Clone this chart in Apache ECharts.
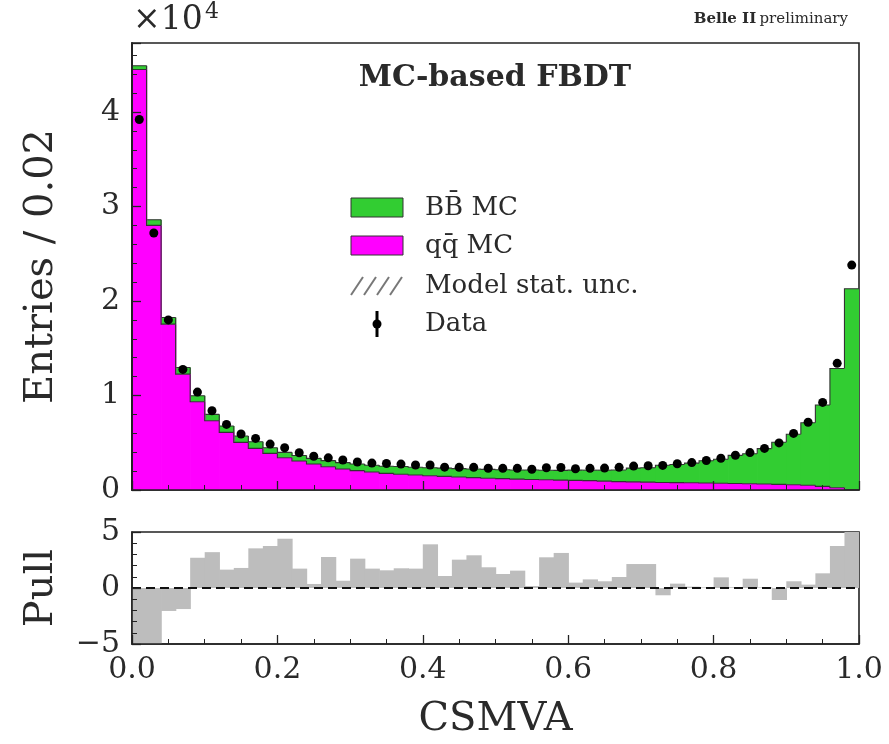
<!DOCTYPE html>
<html><head><meta charset="utf-8">
<script src="https://cdn.jsdelivr.net/npm/echarts@6/dist/echarts.min.js"></script>
<style>html,body{margin:0;padding:0;background:#fff}#c{width:889px;height:744px}</style>
</head><body><div id="c"></div>
<script>
// ---- data (50 bins of width 0.02 in CSMVA) ----
const BIN_WIDTH = 0.02;
const binEdges = Array.from({length: 51}, (_, i) => +(i * BIN_WIDTH).toFixed(2));
const qqMC = [44500, 28000, 17550, 12260, 9340, 7330, 6100, 5040, 4400, 3880,
  3420, 3070, 2750, 2460, 2220, 2050, 1900, 1760, 1660, 1580,
  1510, 1440, 1370, 1310, 1250, 1200, 1150, 1110, 1080, 1050,
  1020, 990, 940, 890, 860, 830, 800, 780, 760, 740,
  710, 690, 660, 630, 600, 560, 510, 380, 240, 30];
const bbMC = [400, 600, 700, 710, 630, 670, 670, 670, 710, 590,
  560, 580, 600, 650, 680, 700, 720, 760, 820, 820,
  850, 870, 890, 910, 930, 950, 970, 1000, 1010, 1030,
  1080, 1110, 1160, 1220, 1460, 1530, 1820, 1920, 2080, 2360,
  2540, 2970, 3180, 3750, 4460, 5340, 6610, 8620, 12620, 21270];
const dataCounts = [39200, 27200, 18000, 12760, 10360, 8380, 6940, 5920, 5460, 4860,
  4470, 3940, 3570, 3400, 3170, 2960, 2850, 2800, 2740, 2640,
  2640, 2420, 2400, 2400, 2300, 2290, 2290, 2190, 2360, 2380,
  2250, 2290, 2320, 2400, 2530, 2570, 2600, 2780, 2900, 3120,
  3360, 3680, 3960, 4400, 4980, 5990, 7170, 9270, 13400, 23800];
const pulls = [-5, -5, -2.05, -1.88, 2.7, 3.2, 1.64, 1.79, 3.54, 3.75,
  4.4, 1.73, 0.36, 2.77, 0.65, 2.62, 1.73, 1.58, 1.76, 1.73,
  3.9, 1.07, 2.53, 2.92, 1.85, 1.25, 1.55, 0.18, 2.74, 3.13,
  0.48, 0.77, 0.6, 0.98, 2.14, 2.14, -0.65, 0.39, 0.12, 0.05,
  0.95, 0.07, 0.83, 0.05, -1.07, 0.6, 0.3, 1.31, 3.75, 5.0];
const yMax = 47300;

const FONT = 'DejaVu Serif';
const TXT = '#2a2a2a';
const AX = '#222';
const EDGE = '#333';

// histogram items: [lowEdge, highEdge, base, top, index]
function histItems(baseArr, valArr) {
  return valArr.map((v, i) => {
    const b = baseArr ? baseArr[i] : 0;
    return [binEdges[i], binEdges[i + 1], b, b + v, i];
  });
}
const qqItems = histItems(null, qqMC);
const bbItems = histItems(qqMC, bbMC);
const pullItems = histItems(null, pulls);

function histRenderer(items, fill, outline) {
  return function (params, api) {
    const x0 = api.value(0), x1 = api.value(1), lo = api.value(2), hi = api.value(3), i = api.value(4);
    const pLo = api.coord([x0, lo]);
    const pHi = api.coord([x1, hi]);
    const top = Math.min(pLo[1], pHi[1]), bot = Math.max(pLo[1], pHi[1]);
    const children = [{
      type: 'rect',
      shape: {x: pLo[0], y: top, width: pHi[0] - pLo[0] + 0.7, height: bot - top},
      style: {fill: fill, stroke: null}
    }];
    if (outline) {
      const prevHi = i > 0 ? items[i - 1][3] : lo;
      const pPrev = api.coord([x0, prevHi]);
      children.push({
        type: 'polyline',
        shape: {points: [[pLo[0], pPrev[1]], [pLo[0], pHi[1]], [pHi[0], pHi[1]]]},
        style: {stroke: EDGE, lineWidth: 1.1, fill: null}
      });
    }
    return {type: 'group', children: children};
  };
}

const chart = echarts.init(document.getElementById('c'), null, {renderer: 'canvas'});

const axisCommon = {
  z: 10,
  axisLine: {show: true, onZero: false, lineStyle: {color: AX, width: 1.6}},
  splitLine: {show: false},
};
const tickLbl = {fontFamily: FONT, fontSize: 30, color: TXT};
const nameStyle = {fontFamily: FONT, fontSize: 40, color: TXT};

chart.setOption({
  backgroundColor: '#fff',
  animation: false,
  grid: [
    {left: 132, right: 30, top: 43, height: 447, show: true, borderColor: AX, borderWidth: 1.6, backgroundColor: 'transparent'},
    {left: 132, right: 30, top: 532, height: 112, show: true, borderColor: AX, borderWidth: 1.6, backgroundColor: 'transparent'}
  ],
  xAxis: [
    Object.assign({}, axisCommon, {
      gridIndex: 0, type: 'value', min: 0, max: 1, interval: 0.2,
      axisTick: {inside: true, length: 9, lineStyle: {color: AX, width: 1.3}},
      minorTick: {show: true, splitNumber: 4, length: 5, lineStyle: {color: AX, width: 1}},
      axisLabel: {show: false}
    }),
    Object.assign({}, axisCommon, {
      gridIndex: 1, type: 'value', min: 0, max: 1, interval: 0.2,
      axisTick: {inside: true, length: 9, lineStyle: {color: AX, width: 1.3}},
      minorTick: {show: true, splitNumber: 4, length: 5, lineStyle: {color: AX, width: 1}},
      axisLabel: Object.assign({show: true, margin: 11, formatter: v => v.toFixed(1)}, tickLbl),
      name: 'CSMVA', nameLocation: 'middle', nameGap: 56, nameTextStyle: nameStyle
    })
  ],
  yAxis: [
    Object.assign({}, axisCommon, {
      gridIndex: 0, type: 'value', min: 0, max: yMax, interval: 2000, position: 'left',
      axisTick: {inside: true, length: 5, lineStyle: {color: AX, width: 1}},
      axisLabel: {show: false}
    }),
    Object.assign({}, axisCommon, {
      gridIndex: 0, type: 'value', min: 0, max: yMax, interval: 10000, position: 'left',
      axisTick: {inside: true, length: 9, lineStyle: {color: AX, width: 1.3}},
      axisLabel: Object.assign({show: true, margin: 12,
        formatter: v => (v % 10000 === 0 ? String(v / 10000) : '')}, tickLbl),
      name: 'Entries / 0.02', nameLocation: 'middle', nameGap: 70, nameTextStyle: nameStyle
    }),
    Object.assign({}, axisCommon, {
      gridIndex: 1, type: 'value', min: -5, max: 5, interval: 5, position: 'left',
      axisTick: {inside: true, length: 9, lineStyle: {color: AX, width: 1.3}},
      minorTick: {show: true, splitNumber: 5, length: 5, lineStyle: {color: AX, width: 1}},
      axisLabel: Object.assign({show: true, margin: 12,
        formatter: v => (v < 0 ? '\u2212' + (-v) : String(v))}, tickLbl),
      name: 'Pull', nameLocation: 'middle', nameGap: 70, nameTextStyle: nameStyle
    })
  ],
  series: [
    {
      name: 'BB\u0304 MC', type: 'custom', xAxisIndex: 0, yAxisIndex: 0, z: 2,
      renderItem: histRenderer(bbItems, '#32cd32', true),
      encode: {x: [0, 1], y: [2, 3]}, data: bbItems, clip: true
    },
    {
      name: 'q\u0071\u0304 MC', type: 'custom', xAxisIndex: 0, yAxisIndex: 0, z: 3,
      renderItem: histRenderer(qqItems, '#ff00ff', true),
      encode: {x: [0, 1], y: [2, 3]}, data: qqItems, clip: true
    },
    {
      name: 'Data', type: 'scatter', xAxisIndex: 0, yAxisIndex: 0, z: 5,
      data: dataCounts.map((v, i) => [(binEdges[i] + binEdges[i + 1]) / 2, v]),
      symbol: 'circle', symbolSize: 9, itemStyle: {color: '#000', opacity: 1}
    },
    {
      name: 'Pull', type: 'custom', xAxisIndex: 1, yAxisIndex: 2, z: 2,
      renderItem: histRenderer(pullItems, '#bdbdbd', false),
      encode: {x: [0, 1], y: [2, 3]}, data: pullItems, clip: true
    },
    {
      name: 'zero', type: 'line', xAxisIndex: 1, yAxisIndex: 2, z: 4,
      data: [[0, 0], [1, 0]], symbol: 'none',
      lineStyle: {type: [9, 5], color: '#111', width: 2}
    }
  ],
  graphic: [
    {type: 'text', left: 133, top: 4, style: {text: '\u00d710', font: '33px "DejaVu Serif"', fill: TXT}},
    {type: 'text', left: 205, top: 1, style: {text: '4', font: '22px "DejaVu Serif"', fill: TXT}},
    {type: 'text', right: 41, top: 12, style: {
      text: '{b|Belle II} {n|preliminary}',
      rich: {b: {fontFamily: FONT, fontWeight: 'bold', fontSize: 15, fill: TXT},
             n: {fontFamily: FONT, fontSize: 15, fill: TXT}}}},
    {type: 'text', x: 495, y: 78, style: {text: 'MC-based FBDT', font: 'bold 30px "DejaVu Serif"', fill: TXT, align: 'center', verticalAlign: 'middle'}},
    // legend
    {type: 'rect', shape: {x: 351, y: 198, width: 52, height: 19}, style: {fill: '#32cd32', stroke: '#333', lineWidth: 1}},
    {type: 'rect', shape: {x: 351, y: 236, width: 52, height: 19}, style: {fill: '#ff00ff', stroke: '#333', lineWidth: 1}},
    {type: 'line', shape: {x1: 351, y1: 295, x2: 363, y2: 277}, style: {stroke: '#777', lineWidth: 2}},
    {type: 'line', shape: {x1: 364, y1: 295, x2: 376, y2: 277}, style: {stroke: '#777', lineWidth: 2}},
    {type: 'line', shape: {x1: 377, y1: 295, x2: 389, y2: 277}, style: {stroke: '#777', lineWidth: 2}},
    {type: 'line', shape: {x1: 390, y1: 295, x2: 402, y2: 277}, style: {stroke: '#777', lineWidth: 2}},
    {type: 'line', shape: {x1: 377, y1: 311, x2: 377, y2: 337}, style: {stroke: '#000', lineWidth: 3}},
    {type: 'circle', shape: {cx: 377, cy: 324, r: 4.5}, style: {fill: '#000'}},
    {type: 'text', x: 425, y: 208, style: {text: 'BB\u0304 MC', font: '26px "DejaVu Serif"', fill: TXT, verticalAlign: 'middle'}},
    {type: 'text', x: 425, y: 246, style: {text: 'q\u0071\u0304 MC', font: '26px "DejaVu Serif"', fill: TXT, verticalAlign: 'middle'}},
    {type: 'text', x: 425, y: 286, style: {text: 'Model stat. unc.', font: '26px "DejaVu Serif"', fill: TXT, verticalAlign: 'middle'}},
    {type: 'text', x: 425, y: 324, style: {text: 'Data', font: '26px "DejaVu Serif"', fill: TXT, verticalAlign: 'middle'}}
  ]
});
</script></body></html>
